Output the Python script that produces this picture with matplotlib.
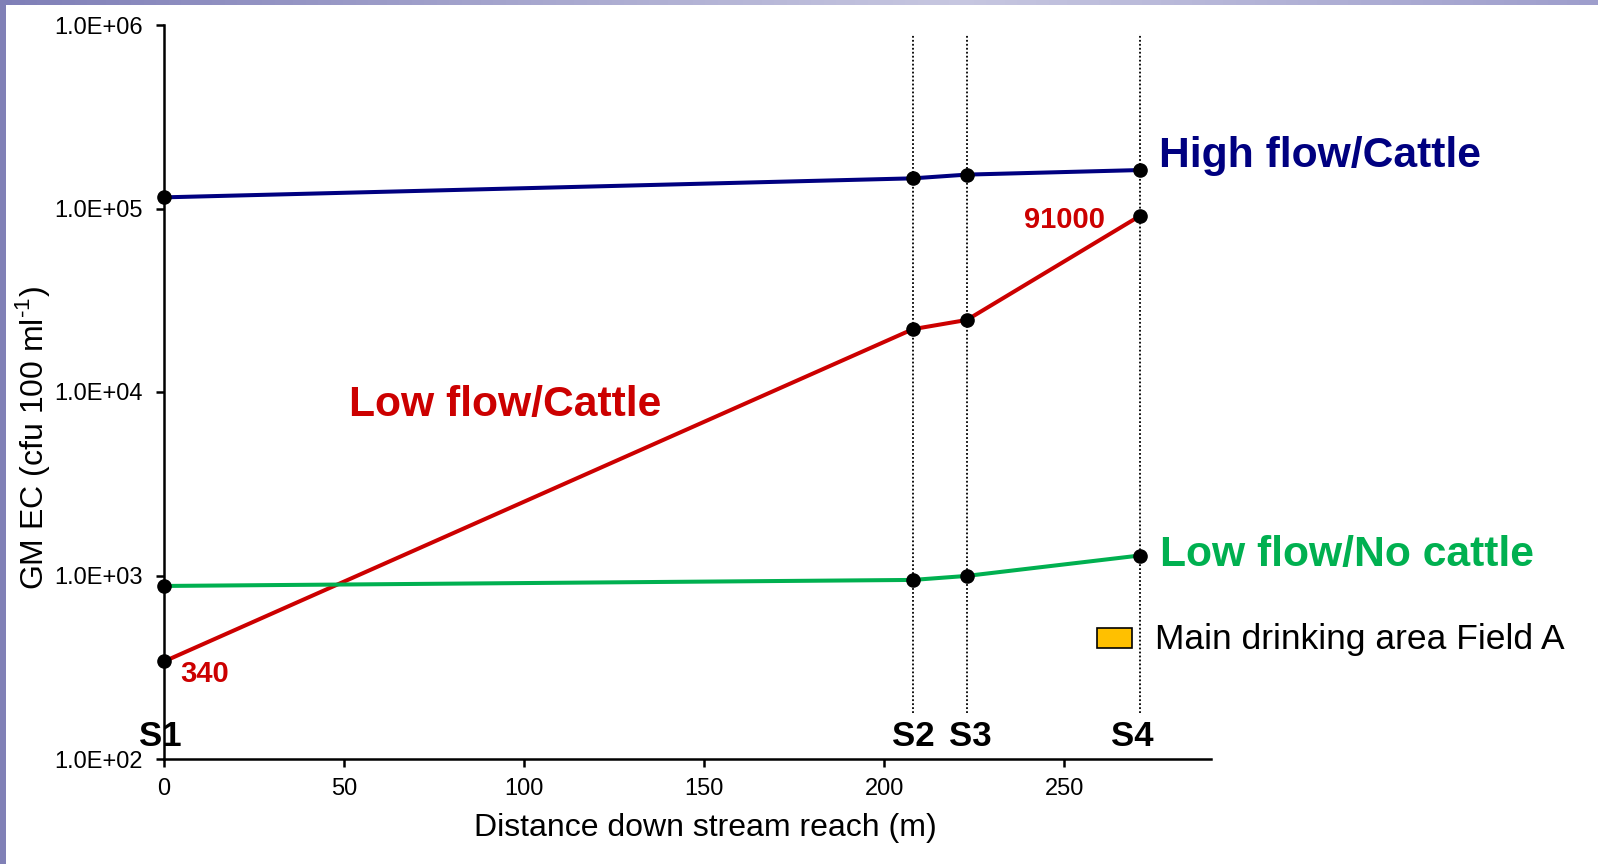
import numpy as np
import matplotlib
matplotlib.use("Agg")
import matplotlib.pyplot as plt
from matplotlib.patches import Rectangle

plt.rcParams['font.family'] = ['Liberation Sans', 'DejaVu Sans']
plt.rcParams['mathtext.fontset'] = 'custom'
plt.rcParams['mathtext.rm'] = 'Liberation Sans'

# Data
distance = [0, 208, 223, 271]
sites = ["S1", "S2", "S3", "S4"]
high_flow_cattle = [115000, 146000, 153000, 162000]
low_flow_cattle = [340, 22000, 24700, 91000]
low_flow_no_cattle = [877, 946, 995, 1285]
y_ticks = [1e2, 1e3, 1e4, 1e5, 1e6]
y_tick_labels = ["1.0E+02", "1.0E+03", "1.0E+04", "1.0E+05", "1.0E+06"]
x_ticks = [0, 50, 100, 150, 200, 250]

W, H = 1598, 864
fig = plt.figure(figsize=(W / 100, H / 100), dpi=100)
fig.patch.set_facecolor("white")

# slide border
top = fig.add_axes([0, 1 - 5 / H, 1, 5 / H])
grad = np.linspace(0, 1, 256)
cols = np.array([[0.50, 0.50, 0.72], [0.78, 0.78, 0.88], [0.62, 0.62, 0.80]])
xs = np.array([0, 0.6, 1.0])
img = np.stack([np.interp(grad, xs, cols[:, c]) for c in range(3)], axis=-1)[None, :, :]
top.imshow(img, aspect="auto", extent=[0, 1, 0, 1])
top.axis("off")
left = fig.add_axes([0, 0, 6 / W, 1])
left.set_facecolor("#8080B6")
left.set_xticks([]); left.set_yticks([])
for s in left.spines.values():
    s.set_visible(False)

ax = fig.add_axes([164 / W, 1 - 759 / H, (1211 - 164) / W, (759 - 25) / H])
ax.set_yscale("log")
ax.set_ylim(1e2, 1e6)
ax.set_xlim(0, 290.8)

for d in distance[1:]:
    ax.axvline(d, ymin=0.063, ymax=0.986, color="black", linestyle=(0, (1, 1.2)), linewidth=1.3, zorder=1)

mk = dict(marker="o", markersize=9.5, markerfacecolor="black", markeredgecolor="black", clip_on=False, zorder=3)
ax.plot(distance, high_flow_cattle, color="#000080", linewidth=2.9, **mk)
ax.plot(distance, low_flow_cattle, color="#CC0000", linewidth=2.9, **mk)
ax.plot(distance, low_flow_no_cattle, color="#00B050", linewidth=2.9, **mk)

ax.set_yticks(y_ticks)
ax.set_yticklabels(y_tick_labels)
ax.yaxis.set_minor_locator(matplotlib.ticker.NullLocator())
ax.set_xticks(x_ticks)
ax.tick_params(axis="both", direction="out", length=6, width=1.8, labelsize=17)
ax.tick_params(axis="y", pad=9)
ax.tick_params(axis="x", pad=8)
for side in ["top", "right"]:
    ax.spines[side].set_visible(False)
for side in ["left", "bottom"]:
    ax.spines[side].set_linewidth(1.8)

ax.set_xlabel("Distance down stream reach (m)", fontsize=23)
ax.set_ylabel(r"GM EC (cfu 100 ml$^{\text{-1}}$)", fontsize=23)
ax.xaxis.set_label_coords((705 - 164) / 1047, (759 - 828) / 734)
ax.xaxis.label.set_va("center")
ax.yaxis.set_label_coords((33 - 164) / 1047, (759 - 438) / 734)
ax.yaxis.label.set_va("center")

# series labels
fig.text(1159 / W, 1 - 156 / H, "High flow/Cattle", color="#000080", fontsize=30.7, fontweight="bold", va="center", ha="left")
fig.text(349 / W, 1 - 405 / H, "Low flow/Cattle", color="#CC0000", fontsize=30.7, fontweight="bold", va="center", ha="left")
fig.text(1160 / W, 1 - 555 / H, "Low flow/No cattle", color="#00B050", fontsize=30.7, fontweight="bold", va="center", ha="left")

# value annotations
ax.annotate(f"{low_flow_cattle[-1]}", (distance[-1], low_flow_cattle[-1]), xytext=(-25, -3), textcoords="offset points",
            ha="right", va="center", color="#CC0000", fontsize=21, fontweight="bold")
ax.annotate(f"{low_flow_cattle[0]}", (distance[0], low_flow_cattle[0]), xytext=(12, -9), textcoords="offset points",
            ha="left", va="center", color="#CC0000", fontsize=21, fontweight="bold")

# site labels
site_x_px = [160, 913, 970, 1132]
for lab, xp in zip(sites, site_x_px):
    fig.text(xp / W, 1 - 737 / H, lab, fontsize=25, fontweight="bold", ha="center", va="center", color="black")

# legend-like key
fig.patches.append(Rectangle((1097 / W, 1 - 648 / H), 35 / W, 20 / H, transform=fig.transFigure,
                             facecolor="#FFC000", edgecolor="black", linewidth=1.2))
fig.text(1155 / W, 1 - 640 / H, "Main drinking area Field A", fontsize=25.5, ha="left", va="center", color="black")

fig.savefig("out.png", dpi=100)
